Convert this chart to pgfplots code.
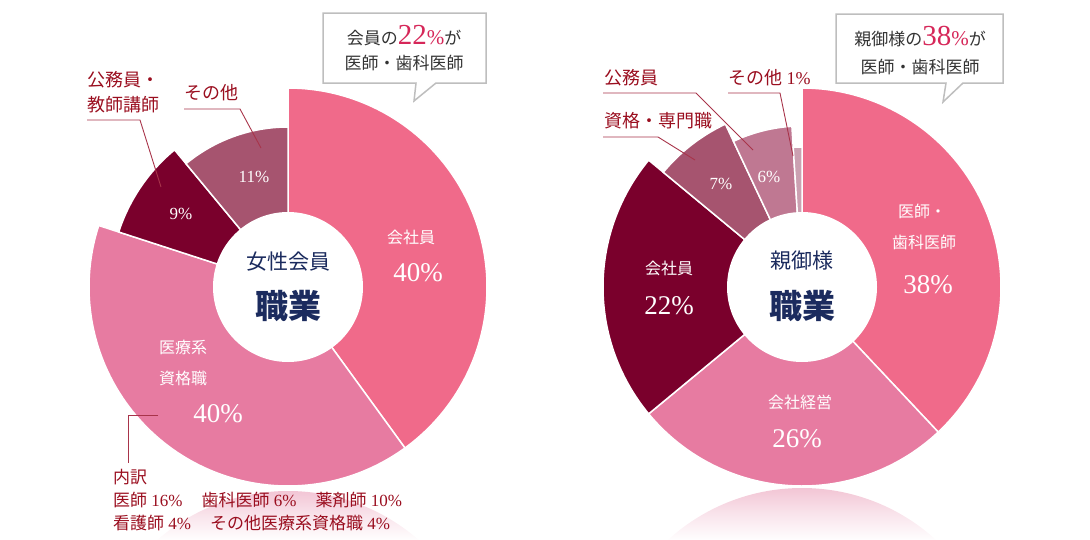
\documentclass[border=0pt]{standalone}
\usepackage{fontspec}
\setmainfont{Liberation Serif}
\newfontfamily\cjk{Noto Sans CJK JP}
\usepackage{pgfplots}
\pgfplotsset{compat=1.18}
\definecolor{cPink}{HTML}{F06A8A}
\definecolor{cPinkB}{HTML}{E77BA1}
\definecolor{cDark}{HTML}{7A002C}
\definecolor{cMauve}{HTML}{A6546F}
\definecolor{cMauveB}{HTML}{BF7892}
\definecolor{cLight}{HTML}{CBA0B1}
\definecolor{lab}{HTML}{9A0E1F}
\definecolor{navy}{HTML}{1B2B5E}
\definecolor{crim}{HTML}{D62759}
\definecolor{lineC}{HTML}{A8344A}
\definecolor{shad}{HTML}{F2C4D4}
\definecolor{boxC}{HTML}{BEBEBE}
\newcommand\fs[1]{\fontsize{#1}{#1}\selectfont}
\newcommand\J[1]{{\cjk #1}}
% sector: cx, cy, start (%), value (%), radius, colour
\newcommand{\sector}[6]{%
  \addplot[draw=white, line width=1.5pt, fill=#6, mark=none, line join=miter,
    domain=90-3.6*(#3+#4):90-3.6*(#3), samples=120, variable=\t]
    ({#1+#5*cos(\t)},{#2-#5*sin(\t)}) -- (axis cs:#1,#2) -- cycle;}
\begin{document}
\begin{tikzpicture}
\begin{axis}[
  x=1pt, y=1pt, xmin=0, xmax=1090, ymin=0, ymax=540, y dir=reverse,
  hide axis, clip=false, enlargelimits=false, anchor=south west, at={(0,0)}]
% reflections
\begin{scope}
  \clip (axis cs:288,690) circle[radius=199pt];
  \shade[top color=shad, bottom color=white, middle color=shad!45] (axis cs:80,490) rectangle (axis cs:500,541);
\end{scope}
\begin{scope}
  \clip (axis cs:802,687) circle[radius=199pt];
  \shade[top color=shad, bottom color=white, middle color=shad!45] (axis cs:590,487) rectangle (axis cs:1010,541);
\end{scope}
% left chart: women members
\sector{288}{287}{0}{40}{199}{cPink}
\sector{288}{287}{40}{40}{199}{cPinkB}
\sector{288}{287}{80}{9}{178}{cDark}
\sector{288}{287}{89}{11}{160}{cMauve}
% right chart: parents
\sector{802}{287}{0}{38}{199}{cPink}
\sector{802}{287}{38}{26}{199}{cPinkB}
\sector{802}{287}{64}{22}{199}{cDark}
\sector{802}{287}{86}{7}{180}{cMauve}
\sector{802}{287}{93}{6}{161}{cMauveB}
\sector{802}{287}{99}{1}{140}{cLight}
% centre holes
\fill[white] (axis cs:288,287) circle[radius=75pt];
\fill[white] (axis cs:802,287) circle[radius=75pt];
\node[text=navy, font=\cjk\fs{21}] at (axis cs:288,262) {女性会員};
\node[text=navy, font=\cjk\bfseries\fs{33}] at (axis cs:288,306) {職業};
\node[text=navy, font=\cjk\fs{21}] at (axis cs:802,261) {親御様};
\node[text=navy, font=\cjk\bfseries\fs{33}] at (axis cs:802,306) {職業};
% inner labels left
\node[text=white, font=\cjk\fs{16}] at (axis cs:411,237) {会社員};
\node[text=white, font=\fs{27}] at (axis cs:418,273) {40\%};
\node[text=white, font=\cjk\fs{16}] at (axis cs:183,347) {医療系};
\node[text=white, font=\cjk\fs{16}] at (axis cs:183,378) {資格職};
\node[text=white, font=\fs{27}] at (axis cs:218,414) {40\%};
\node[text=white, font=\fs{17}] at (axis cs:181,214) {9\%};
\node[text=white, font=\fs{17}] at (axis cs:254,177) {11\%};
% inner labels right
\node[text=white, font=\cjk\fs{16}] at (axis cs:922,211) {医師・};
\node[text=white, font=\cjk\fs{16}] at (axis cs:924,242) {歯科医師};
\node[text=white, font=\fs{27}] at (axis cs:928,285) {38\%};
\node[text=white, font=\cjk\fs{16}] at (axis cs:800,402) {会社経営};
\node[text=white, font=\fs{27}] at (axis cs:797,439) {26\%};
\node[text=white, font=\cjk\fs{16}] at (axis cs:669,268) {会社員};
\node[text=white, font=\fs{27}] at (axis cs:669,306) {22\%};
\node[text=white, font=\fs{17}] at (axis cs:721,184) {7\%};
\node[text=white, font=\fs{17}] at (axis cs:769,177) {6\%};
% outer labels left
\node[anchor=west, inner sep=0pt, text=lab, font=\cjk\fs{18}] at (axis cs:87,80) {公務員・};
\node[anchor=west, inner sep=0pt, text=lab, font=\cjk\fs{18}] at (axis cs:87,105) {教師講師};
\draw[lineC, line width=0.9pt] (axis cs:87,120) -- (axis cs:140,120) -- (axis cs:161,187);
\node[anchor=west, inner sep=0pt, text=lab, font=\cjk\fs{18}] at (axis cs:184,93) {その他};
\draw[lineC, line width=0.9pt] (axis cs:184,109) -- (axis cs:240,109) -- (axis cs:261,148);
% outer labels right
\node[anchor=west, inner sep=0pt, text=lab, font=\cjk\fs{18}] at (axis cs:604,78) {公務員};
\draw[lineC, line width=0.9pt] (axis cs:603,93) -- (axis cs:696,93) -- (axis cs:753,150);
\node[anchor=west, inner sep=0pt, text=lab, font=\cjk\fs{18}] at (axis cs:604,121) {資格・専門職};
\draw[lineC, line width=0.9pt] (axis cs:603,137) -- (axis cs:658,137) -- (axis cs:695,160);
\node[anchor=west, inner sep=0pt, text=lab, font=\fs{18}] at (axis cs:728,78) {\J{その他} 1\%};
\draw[lineC, line width=0.9pt] (axis cs:728,93) -- (axis cs:780,93) -- (axis cs:793,156);
% breakdown
\draw[lineC, line width=1pt] (axis cs:158,415) -- (axis cs:128,415) -- (axis cs:128,463);
\node[anchor=west, inner sep=0pt, text=lab, font=\cjk\fs{17}] at (axis cs:113,477) {内訳};
\node[anchor=west, inner sep=0pt, text=lab, font=\fs{17}] at (axis cs:113,500)
  {\J{医師} 16\%\hspace{19pt}\J{歯科医師} 6\%\hspace{19pt}\J{薬剤師} 10\%};
\node[anchor=west, inner sep=0pt, text=lab, font=\fs{17}] at (axis cs:113,523)
  {\J{看護師} 4\%\hspace{19pt}\J{その他医療系資格職} 4\%};
% callouts
\draw[boxC, line width=1.5pt, fill=white, line join=miter]
  (axis cs:323,13) -- (axis cs:486,13) -- (axis cs:486,83) -- (axis cs:436,83)
  -- (axis cs:414,101) -- (axis cs:416,83) -- (axis cs:323,83) -- cycle;
\node[anchor=base, inner sep=0pt, text=black!80] at (axis cs:404,44)
  {\J{\fs{17}会員の}{\color{crim}\fs{29}22\fs{21}\%}\J{\fs{17}が}};
\node[inner sep=0pt, text=black!80, font=\cjk\fs{17}] at (axis cs:404,63) {医師・歯科医師};
\draw[boxC, line width=1.5pt, fill=white, line join=miter]
  (axis cs:836,14) -- (axis cs:1003,14) -- (axis cs:1003,83) -- (axis cs:963,83)
  -- (axis cs:943,102) -- (axis cs:946,83) -- (axis cs:836,83) -- cycle;
\node[anchor=base, inner sep=0pt, text=black!80] at (axis cs:920,45)
  {\J{\fs{17}親御様の}{\color{crim}\fs{29}38\fs{21}\%}\J{\fs{17}が}};
\node[inner sep=0pt, text=black!80, font=\cjk\fs{17}] at (axis cs:920,67) {医師・歯科医師};
\end{axis}
\pgfresetboundingbox
\path (0,0) rectangle (1090pt,540pt);
\end{tikzpicture}
\end{document}
